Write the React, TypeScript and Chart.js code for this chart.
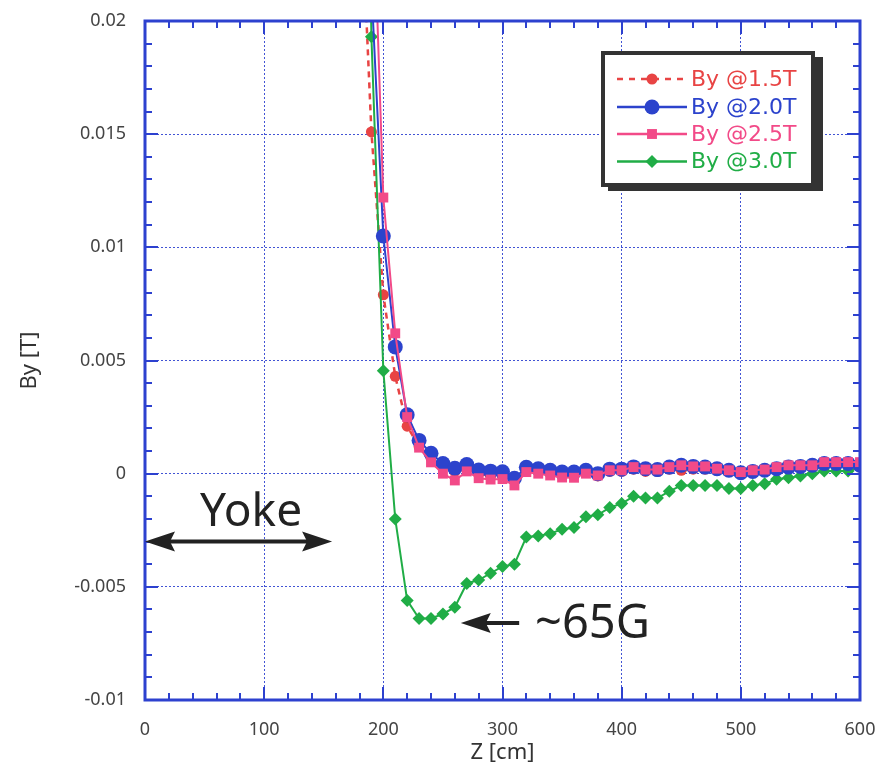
import React, { useEffect, useRef } from "react";
import { Chart, registerables } from "chart.js";

Chart.register(...registerables);

const zValues = [180, 190, 200, 210, 220, 230, 240, 250, 260, 270, 280, 290, 300, 310, 320, 330, 340, 350, 360, 370, 380, 390, 400, 410, 420, 430, 440, 450, 460, 470, 480, 490, 500, 510, 520, 530, 540, 550, 560, 570, 580, 590, 600];

const by15 = [0.027, 0.0151, 0.0079, 0.0043, 0.0021, 0.0012, 0.0007, 0.0003, 0.0001, 0.0002, 0.0, -0.0001, -0.0001, -0.0003, 0.0001, 0.0001, 0.0, -0.0001, -0.0001, 0.0001, -0.0001, 0.0001, 0.0001, 0.0002, 0.0001, 0.0001, 0.0002, 0.00015, 0.0002, 0.0002, 0.00015, 0.0001, 0.0, 0.0001, 0.0001, 0.0002, 0.0003, 0.0003, 0.0003, 0.0004, 0.0004, 0.0004, 0.0004];

const by20 = [0.045, 0.0215, 0.0105, 0.0056, 0.0026, 0.00147, 0.0009, 0.00045, 0.00024, 0.0004, 0.00016, 0.00011, 0.00008, -0.0002, 0.00028, 0.00022, 0.00015, 0.00007, 0.00007, 0.00015, 0.0, 0.0002, 0.0002, 0.0003, 0.00022, 0.00018, 0.00029, 0.00037, 0.00032, 0.00029, 0.00022, 0.00015, 0.00004, 0.0001, 0.00015, 0.00022, 0.00029, 0.00032, 0.00037, 0.00045, 0.00045, 0.00045, 0.00037];

const by25 = [0.05, 0.028, 0.0122, 0.0062, 0.0025, 0.00115, 0.0005, 0.0, -0.0003, 0.0001, -0.0002, -0.00026, -0.00024, -0.00052, 0.00007, 0.0, -0.00008, -0.00017, -0.00018, 0.0, -0.00008, 0.00015, 0.00015, 0.00029, 0.00018, 0.00018, 0.00029, 0.00037, 0.00032, 0.00032, 0.00022, 0.00015, 0.00007, 0.00015, 0.00018, 0.00029, 0.00037, 0.00037, 0.00037, 0.00051, 0.00051, 0.00051, 0.00051];

const by30 = [0.05, 0.0193, 0.00455, -0.002, -0.0056, -0.0064, -0.0064, -0.0062, -0.0059, -0.00485, -0.0047, -0.0044, -0.0041, -0.004, -0.0028, -0.00275, -0.00265, -0.00246, -0.00238, -0.0019, -0.00182, -0.0015, -0.00132, -0.001, -0.00108, -0.00108, -0.00078, -0.00052, -0.00052, -0.00052, -0.00052, -0.00066, -0.00066, -0.00052, -0.00044, -0.00025, -0.00018, -0.0001, 0.0, 0.00012, 0.00012, 0.00012, 0.00029];

const seriesLabels = ["By @1.5T", "By @2.0T", "By @2.5T", "By @3.0T"];
const seriesColors = ["#e84444", "#2c43cc", "#f24a88", "#20ad46"];

const xTickMin = 0;
const xTickMax = 600;
const yTickMin = -0.01;
const yTickMax = 0.02;

const yokeLabel = "Yoke";
const yokeArrowZ = [0, 157];
const yokeArrowBy = -0.003;
const gaussLabel = "~65G";
const gaussArrowZ = [314, 265];
const gaussArrowBy = -0.0066;

const AXIS_BLUE = "#2d41cf";
const FONT = "'Noto Sans', 'DejaVu Sans', sans-serif";
const LEGEND_FONT = "'DejaVu Sans', 'Noto Sans', sans-serif";

function toXY(ys: number[]) {
  return zValues.map((z, i) => ({ x: z, y: ys[i] }));
}

function drawMarker(ctx: CanvasRenderingContext2D, style: string, x: number, y: number, r: number, color: string) {
  ctx.save();
  ctx.fillStyle = color;
  ctx.beginPath();
  if (style === "circle") {
    ctx.arc(x, y, r, 0, Math.PI * 2);
  } else if (style === "rect") {
    const s = Math.SQRT1_2 * r;
    ctx.rect(x - s, y - s, 2 * s, 2 * s);
  } else {
    ctx.moveTo(x - r, y);
    ctx.lineTo(x, y - r);
    ctx.lineTo(x + r, y);
    ctx.lineTo(x, y + r);
    ctx.closePath();
  }
  ctx.fill();
  ctx.restore();
}

function drawArrow(ctx: CanvasRenderingContext2D, x1: number, x2: number, y: number, both: boolean) {
  const head = (tipX: number, dir: number) => {
    ctx.beginPath();
    ctx.moveTo(tipX, y);
    ctx.lineTo(tipX - dir * 30, y - 10);
    ctx.lineTo(tipX - dir * 25, y);
    ctx.lineTo(tipX - dir * 30, y + 10);
    ctx.closePath();
    ctx.fill();
  };
  ctx.save();
  ctx.strokeStyle = "#222";
  ctx.fillStyle = "#222";
  ctx.lineWidth = 4;
  ctx.beginPath();
  const d = Math.sign(x2 - x1);
  ctx.moveTo(both ? x1 + d * 20 : x1, y);
  ctx.lineTo(x2 - d * 20, y);
  ctx.stroke();
  head(x2, d);
  if (both) head(x1, -d);
  ctx.restore();
}

const framePlugin = {
  id: "framePlugin",
  afterDraw(chart: any) {
    const { ctx, chartArea: ca, scales } = chart;
    const xs = scales.x;
    const ys = scales.y;
    ctx.save();
    ctx.strokeStyle = AXIS_BLUE;
    ctx.lineWidth = 2;
    ctx.beginPath();
    for (let v = xTickMin; v <= xTickMax + 1e-9; v += 20) {
      const px = Math.round(xs.getPixelForValue(v));
      const len = v % 100 === 0 ? 13 : 7;
      ctx.moveTo(px, ca.bottom);
      ctx.lineTo(px, ca.bottom - len);
      ctx.moveTo(px, ca.top);
      ctx.lineTo(px, ca.top + len);
    }
    for (let k = 0; k <= 30; k++) {
      const v = yTickMin + k * 0.001;
      const py = Math.round(ys.getPixelForValue(v));
      const len = k % 5 === 0 ? 13 : 7;
      ctx.moveTo(ca.left, py);
      ctx.lineTo(ca.left + len, py);
      ctx.moveTo(ca.right, py);
      ctx.lineTo(ca.right - len, py);
    }
    ctx.stroke();
    ctx.lineWidth = 3;
    ctx.strokeRect(ca.left, ca.top, ca.right - ca.left, ca.bottom - ca.top);
    ctx.restore();

    const yArrowY = ys.getPixelForValue(yokeArrowBy);
    drawArrow(ctx, xs.getPixelForValue(yokeArrowZ[0]), xs.getPixelForValue(yokeArrowZ[1]), yArrowY, true);
    ctx.save();
    ctx.fillStyle = "#222";
    ctx.font = `46px ${FONT}`;
    ctx.textBaseline = "alphabetic";
    ctx.textAlign = "left";
    ctx.fillText(yokeLabel, 200, 526);
    ctx.restore();

    const gY = ys.getPixelForValue(gaussArrowBy);
    drawArrow(ctx, xs.getPixelForValue(gaussArrowZ[0]), xs.getPixelForValue(gaussArrowZ[1]), gY, false);
    ctx.save();
    ctx.fillStyle = "#222";
    ctx.font = `47px ${FONT}`;
    ctx.textBaseline = "alphabetic";
    ctx.textAlign = "left";
    ctx.fillText(gaussLabel, 535, 638);
    ctx.restore();

    ctx.save();
    ctx.fillStyle = "#333";
    ctx.fillRect(608, 57, 215, 134);
    ctx.fillStyle = "#fff";
    ctx.fillRect(603, 53, 210, 132);
    ctx.strokeStyle = "#333";
    ctx.lineWidth = 4;
    ctx.strokeRect(603, 53, 210, 132);
    const rowY = [79, 107, 134, 161.5];
    const styles = ["circle", "circle", "rect", "rectRot"];
    const radii = [5.5, 7.5, 7, 6.5];
    for (let i = 0; i < 4; i++) {
      const y = rowY[i];
      ctx.strokeStyle = seriesColors[i];
      ctx.lineWidth = 2.5;
      ctx.setLineDash(i === 0 ? [6, 6] : []);
      ctx.beginPath();
      ctx.moveTo(617, y);
      ctx.lineTo(687, y);
      ctx.stroke();
      ctx.setLineDash([]);
      drawMarker(ctx, styles[i], 652, y, radii[i], seriesColors[i]);
      ctx.fillStyle = seriesColors[i];
      ctx.font = `22px ${LEGEND_FONT}`;
      ctx.textBaseline = "middle";
      ctx.textAlign = "left";
      ctx.fillText(seriesLabels[i], 691, y + 1);
    }
    ctx.restore();
  },
};

function fmt(v: number) {
  const r = Math.round(v * 1000) / 1000;
  if (Math.abs(r) < 1e-9) return "0";
  return String(r);
}

function zeroPad(s: any) {
  s.paddingLeft = 0;
  s.paddingRight = 0;
  s.paddingTop = 0;
  s.paddingBottom = 0;
}

export default function App() {
  const ref = useRef<HTMLCanvasElement | null>(null);
  useEffect(() => {
    document.body.style.margin = "0";
    const canvas = ref.current;
    if (!canvas) return;
    const chart = new Chart(canvas, {
      type: "line",
      data: {
        datasets: [
          {
            label: seriesLabels[0],
            data: toXY(by15),
            borderColor: seriesColors[0],
            backgroundColor: seriesColors[0],
            borderWidth: 2.5,
            borderDash: [6, 5],
            pointStyle: "circle",
            pointRadius: 5.5,
            pointBorderWidth: 0,
            order: 3,
          },
          {
            label: seriesLabels[1],
            data: toXY(by20),
            borderColor: seriesColors[1],
            backgroundColor: seriesColors[1],
            borderWidth: 2,
            pointStyle: "circle",
            pointRadius: 7.5,
            pointBorderWidth: 0,
            order: 1,
          },
          {
            label: seriesLabels[2],
            data: toXY(by25),
            borderColor: seriesColors[2],
            backgroundColor: seriesColors[2],
            borderWidth: 2,
            pointStyle: "rect",
            pointRadius: 7,
            pointBorderWidth: 0,
            order: 0,
          },
          {
            label: seriesLabels[3],
            data: toXY(by30),
            borderColor: seriesColors[3],
            backgroundColor: seriesColors[3],
            borderWidth: 2,
            pointStyle: "rectRot",
            pointRadius: 6.5,
            pointBorderWidth: 0,
            order: 2,
          },
        ],
      },
      options: {
        responsive: false,
        animation: false,
        layout: { padding: { left: 0, top: 21, right: 18, bottom: 0 } },
        plugins: { legend: { display: false }, tooltip: { enabled: false } },
        scales: {
          x: {
            type: "linear",
            min: xTickMin,
            max: xTickMax,
            afterFit: (s: any) => {
              s.height = 68;
              zeroPad(s);
            },
            ticks: {
              stepSize: 100,
              padding: 19,
              color: "#444",
              font: { family: FONT, size: 18 },
              maxRotation: 0,
            },
            grid: { color: "rgba(45,65,207,0.9)", lineWidth: 1, drawTicks: false },
            border: { display: false, dash: [2, 2] },
            title: {
              display: true,
              text: "Z [cm]",
              color: "#333",
              font: { family: FONT, size: 22 },
              padding: { top: 0, bottom: 2 },
            },
          },
          y: {
            type: "linear",
            min: yTickMin,
            max: yTickMax,
            afterFit: (s: any) => {
              s.width = 145;
              zeroPad(s);
            },
            ticks: {
              stepSize: 0.005,
              padding: 19,
              color: "#444",
              font: { family: FONT, size: 18 },
              callback: (v: any) => fmt(Number(v)),
            },
            grid: { color: "rgba(45,65,207,0.9)", lineWidth: 1, drawTicks: false },
            border: { display: false, dash: [2, 2] },
            title: {
              display: true,
              text: "By [T]",
              color: "#333",
              font: { family: FONT, size: 22 },
              padding: { top: 17, bottom: 0 },
            },
          },
        },
      },
      plugins: [framePlugin],
    } as any);
    return () => chart.destroy();
  }, []);
  return (
    <div style={{ width: 878, height: 768, position: "relative", background: "#fff" }}>
      <canvas ref={ref} width={878} height={768} style={{ display: "block" }} />
    </div>
  );
}
